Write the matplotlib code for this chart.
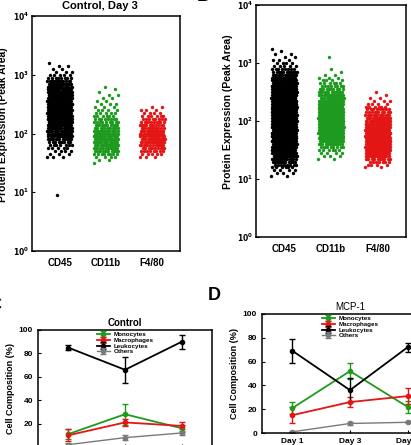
import numpy as np
import matplotlib
matplotlib.use('Agg')
import matplotlib.pyplot as plt
from matplotlib.ticker import FixedLocator, FuncFormatter, NullLocator

# -------------------------------------------------
# style
# -------------------------------------------------
plt.rcParams['font.family'] = ['Liberation Sans', 'DejaVu Sans']
plt.rcParams['font.weight'] = 'bold'
plt.rcParams['axes.linewidth'] = 1.1

W, H = 411, 445  # figure size in pixels

# -------------------------------------------------
# data: strip plots (counts of cells per log10 bin)
# -------------------------------------------------
markers = ['CD45', 'CD11b', 'F4/80']
strip_colors = ['black', '#1e9a1e', '#e31515']
BIN_STEP = 0.05

# Control, Day 3
a_cd45_start = 1.60
a_cd45_counts = [3, 3, 4, 5, 7, 9, 12, 14, 16, 18, 20, 22, 24, 25, 26, 26, 26,
                 26, 26, 25, 25, 24, 22, 20, 18, 14, 12, 8, 5, 3, 2, 2, 1]
a_cd45_outliers = [9.0]
a_cd11b_start = 1.50
a_cd11b_counts = [1, 2, 4, 8, 12, 14, 16, 16, 16, 16, 15, 14, 12, 11, 9, 8, 6,
                  5, 4, 3, 3, 2, 2, 2, 1, 1, 1]
a_f480_start = 1.60
a_f480_counts = [3, 5, 8, 10, 12, 13, 14, 14, 14, 13, 12, 11, 10, 8, 6, 4, 3, 2]

# second strip panel
b_cd45_start = 1.05
b_cd45_counts = [2, 3, 4, 6, 8, 11, 14, 17, 20, 22, 24, 26, 27, 28, 29, 30, 30,
                 30, 30, 30, 30, 30, 30, 30, 30, 30, 29, 29, 28, 27, 26, 24, 22,
                 20, 17, 14, 11, 8, 5, 4, 3, 2, 2, 1, 1]
b_cd11b_start = 1.35
b_cd11b_counts = [2, 3, 4, 6, 9, 12, 15, 18, 20, 22, 24, 25, 26, 26, 26, 26, 25,
                  24, 22, 20, 18, 16, 14, 12, 10, 8, 6, 4, 3, 2, 1, 1]
b_cd11b_outliers = [1260.0]
b_f480_start = 1.20
b_f480_counts = [2, 4, 7, 10, 14, 18, 21, 23, 24, 25, 25, 25, 24, 23, 22, 20,
                 18, 16, 13, 10, 8, 6, 4, 3, 2, 1, 1]

# -------------------------------------------------
# data: cell composition (%)
# -------------------------------------------------
days = ['Day 1', 'Day 3', 'Day 5']
series_names = ['Monocytes', 'Macrophages', 'Leukocytes', 'Others']
series_colors = ['#1e9a1e', '#e31515', 'black', '#7a7a7a']

ctrl_mono = [11, 28, 16]
ctrl_mono_err = [4, 9, 3]
ctrl_macro = [10, 21, 18]
ctrl_macro_err = [5, 3, 3]
ctrl_leuko = [85, 66, 90]
ctrl_leuko_err = [2, 11, 6]
ctrl_other = [2, 8, 12]
ctrl_other_err = [1, 2, 2]

mcp_mono = [21, 52, 22]
mcp_mono_err = [5, 7, 5]
mcp_macro = [15, 26, 31]
mcp_macro_err = [7, 4, 7]
mcp_leuko = [69, 36, 72]
mcp_leuko_err = [10, 10, 4]
mcp_other = [1, 8, 9]
mcp_other_err = [1, 1, 1]


# -------------------------------------------------
# helpers
# -------------------------------------------------
def px_axes(fig, left, top, right, bottom):
    return fig.add_axes([left / W, 1 - bottom / H, (right - left) / W, (bottom - top) / H])


def px_text(fig, x, y, s, **kw):
    fig.text(x / W, 1 - y / H, s, **kw)


def strip_points(start, counts, pos, half_width):
    xs, ys = [], []
    k = 0
    for i, n in enumerate(counts):
        v = 10 ** (start + i * BIN_STEP)
        for _ in range(n):
            frac = (k * 0.6180339887) % 1.0
            k += 1
            xs.append(pos + (2 * frac - 1) * half_width)
            ys.append(v)
    return xs, ys


def strip_panel(ax, groups, outliers):
    for i, (start, counts) in enumerate(groups):
        xs, ys = strip_points(start, counts, i + 1, 0.27)
        if outliers[i]:
            xs += [i + 1 - 0.05] * len(outliers[i])
            ys += outliers[i]
        ax.scatter(xs, ys, s=6, color=strip_colors[i], linewidths=0)
    ax.set_yscale('log')
    ax.set_ylim(1, 1e4)
    ax.set_xlim(0.4, 3.6)
    ax.yaxis.set_major_locator(FixedLocator([1, 10, 100, 1000, 10000]))
    ax.yaxis.set_minor_locator(NullLocator())
    ax.yaxis.set_major_formatter(FuncFormatter(lambda v, p: r'$\mathbf{10^{%d}}$' % round(np.log10(v))))
    ax.set_xticks([1, 2, 3])
    ax.set_xticklabels(markers, fontsize=7, fontweight='bold')
    ax.tick_params(axis='y', labelsize=5.5, direction='in', length=2, pad=2)
    ax.tick_params(axis='x', length=0, pad=5)


def comp_panel(ax, data, title, title_weight):
    for (vals, errs), name, col in zip(data, series_names, series_colors):
        lw = 1.0 if name == 'Others' else 1.3
        ax.errorbar([1, 2, 3], vals, yerr=errs, color=col, marker='o', markersize=3,
                    linewidth=lw, elinewidth=1.0, capsize=2, capthick=1.0, label=name)
    ax.set_xlim(0.47, 3.53)
    ax.set_ylim(0, 100)
    ax.set_yticks([0, 20, 40, 60, 80, 100])
    ax.set_xticks([1, 2, 3])
    ax.set_xticklabels(days, fontsize=6, fontweight='bold')
    ax.tick_params(axis='y', labelsize=6, direction='in', length=2)
    ax.tick_params(axis='x', direction='in', length=2)
    ax.set_ylabel('Cell Composition (%)', fontsize=6.5, fontweight='bold', labelpad=3)
    ax.set_title(title, fontsize=7, fontweight=title_weight, pad=3)
    ax.legend(loc='upper center', bbox_to_anchor=(0.5, 1.02), frameon=False,
              handlelength=2.2, labelspacing=0.05, borderpad=0.2, handletextpad=0.5,
              prop={'size': 4.5, 'weight': 'bold'})


# -------------------------------------------------
# figure
# -------------------------------------------------
fig = plt.figure(figsize=(W / 100, H / 100), dpi=100)

# top-left strip plot
ax_a = px_axes(fig, 32, 16, 180, 251)
strip_panel(ax_a, [(a_cd45_start, a_cd45_counts), (a_cd11b_start, a_cd11b_counts),
                   (a_f480_start, a_f480_counts)], [a_cd45_outliers, None, None])
px_text(fig, 100, 6, 'Control, Day 3', fontsize=8, fontweight='bold', ha='center', va='center')
px_text(fig, 3, 125, 'Protein Expression (Peak Area)', fontsize=7.5, fontweight='bold',
        rotation=90, ha='center', va='center')

# top-right strip plot
ax_b = px_axes(fig, 256, 5, 406, 237)
strip_panel(ax_b, [(b_cd45_start, b_cd45_counts), (b_cd11b_start, b_cd11b_counts),
                   (b_f480_start, b_f480_counts)], [None, b_cd11b_outliers, None])
px_text(fig, 228, 112, 'Protein Expression (Peak Area)', fontsize=7.5, fontweight='bold',
        rotation=90, ha='center', va='center')
px_text(fig, 203, -4, 'B', fontsize=13, fontweight='bold', ha='center', va='center')

# bottom-left composition
ax_c = px_axes(fig, 38, 330, 212, 447)
comp_panel(ax_c, [(ctrl_mono, ctrl_mono_err), (ctrl_macro, ctrl_macro_err),
                  (ctrl_leuko, ctrl_leuko_err), (ctrl_other, ctrl_other_err)], 'Control', 'bold')
px_text(fig, -5, 305, 'C', fontsize=13, fontweight='bold', ha='center', va='center')

# bottom-right composition
ax_d = px_axes(fig, 262, 314, 438, 433)
comp_panel(ax_d, [(mcp_mono, mcp_mono_err), (mcp_macro, mcp_macro_err),
                  (mcp_leuko, mcp_leuko_err), (mcp_other, mcp_other_err)], 'MCP-1', 'normal')
px_text(fig, 214, 296, 'D', fontsize=13, fontweight='bold', ha='center', va='center')

fig.savefig('out.png', dpi=100)
